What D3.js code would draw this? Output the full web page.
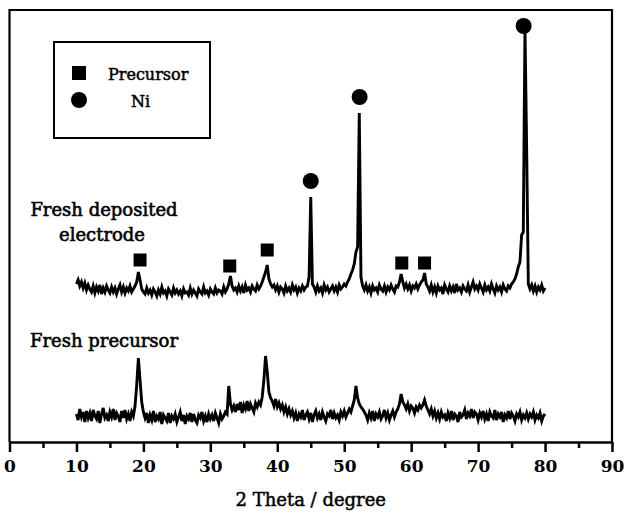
<!DOCTYPE html>
<html><head><meta charset="utf-8">
<script src="https://cdn.jsdelivr.net/npm/d3@7"></script>
<style>html,body{margin:0;padding:0;background:#fff;}svg{display:block;}</style>
</head><body>
<svg id="c" width="627" height="516"></svg>
<script>
// 2-theta sampling of the patterns
const thetaStart = 10, thetaStep = 0.25;
// Fresh deposited electrode (offset intensity, a.u.)
const electrode = [
158,162,156,160,154,159,152,157,153,
150,156,149,155,151,157,148,154,150,156,152,149,155,150,154,148,153,157,150,155,149,154,151,156,150,153,
156,160,170,162,153,150,
148,154,149,152,147,153,150,146,152,148,
155,149,151,146,153,150,147,154,149,152,
148,151,146,153,149,150,147,154,148,152,
149,146,153,150,148,155,149,151,147,153,
150,148,154,149,152,151,148,155,150,153,
158,166,156,152,
154,150,156,151,155,149,157,152,154,150,156,153,151,157,153,156,160,
165,170,177,163,158,155,
157,152,156,150,155,153,149,156,151,154,150,157,152,155,149,154,151,156,152,155,
156,165,245,158,
155,150,156,151,154,149,157,152,155,150,153,156,151,155,150,157,153,155,158,156,160,
163,168,172,178,190,195,329,165,156,
152,157,151,155,149,156,152,154,150,157,153,151,156,150,155,152,157,153,150,156,155,
160,168,160,154,
158,153,157,151,156,154,158,153,157,160,
162,169,158,155,
151,157,150,155,149,156,152,154,148,157,
153,150,156,151,155,149,158,152,154,150,
156,153,151,157,150,155,160,153,156,152,
158,154,150,157,152,155,151,158,153,149,
156,152,155,150,157,153,151,156,154,158,
160,163,168,
175,180,207,210,414,294,158,153,
157,151,156,150,155,152,157,151,154
];
// Fresh precursor (a.u.)
const precursor = [
28,22,33,25,30,20,31,24,29,21,
32,26,23,31,19,28,34,24,27,21,
30,25,33,22,29,26,20,31,24,32,
23,28,21,30,26,
36,57,84,62,40,30,
24,29,19,27,22,31,20,26,23,30,
18,27,24,21,29,19,26,23,28,20,
25,30,21,27,18,26,23,29,20,28,
22,19,27,24,30,21,26,20,28,23,
27,21,29,24,19,28,23,26,30,28,
56,38,32,36,
30,38,32,40,29,37,33,41,31,38,34,30,39,35,40,37,
45,62,86,70,50,44,
41,36,43,35,39,33,37,30,35,28,33,27,
31,24,29,21,28,25,32,22,27,30,
23,29,20,27,31,24,28,22,30,25,
21,28,26,32,23,29,24,27,22,30,
26,31,25,29,33,30,
36,42,56,44,38,35,33,30,
27,22,29,24,31,21,28,25,30,23,26,32,24,29,22,27,31,25,30,33,
38,48,40,37,
33,38,31,36,34,29,35,32,37,34,
37,42,36,32,
28,33,26,31,24,29,23,30,25,27,
21,29,24,31,22,28,26,20,30,25,
27,32,23,29,26,33,24,30,28,22,
29,25,31,23,28,21,30,26,24,32,
22,28,25,30,20,27,24,31,23,29,
26,21,28,25,30,22,27,24,29,23,
28,25,30,22,27,24,29,21,26,28
];
// Phase markers
const precursorMarkX = [19.5, 32.9, 38.5, 58.6, 62.0];
const precursorMarkY = [182, 176, 192, 179, 179];
const niMarkX = [45.0, 52.3, 76.8];
const niMarkY = [261, 345, 416];
const xTicks = [0,10,20,30,40,50,60,70,80,90];
const xMinorTicks = [5,15,25,35,45,55,65,75,85];
const legendLabels = ["Precursor", "Ni"];
const traceLabels = [["Fresh deposited", "electrode"], ["Fresh precursor"]];

const svg = d3.select("#c");
const font = "'DejaVu Serif', serif";
const x = d3.scaleLinear().domain([0, 90]).range([9.5, 612]);
const y = d3.scaleLinear().domain([0, 432]).range([442, 10]);

// heavier text helper
function heavy(sel, w) { return sel.attr("stroke", "#000").attr("stroke-width", w).attr("fill", "#000"); }

// frame
svg.append("path")
  .attr("d", `M${x(0)},${y(0)}V${y(432)}H${x(90)}V${y(0)}`)
  .attr("fill", "none").attr("stroke", "#000").attr("stroke-width", 2.2);

// bottom axis
const ax = svg.append("g").attr("transform", `translate(0,${y(0)})`)
  .call(d3.axisBottom(x).tickValues(xTicks).tickSize(10).tickSizeOuter(0).tickPadding(8).tickFormat(d3.format("d")));
ax.select(".domain").attr("stroke-width", 2.5);
ax.selectAll(".tick line").attr("stroke-width", 2.5);
ax.selectAll(".tick text").attr("font-family", font).attr("font-size", 17).attr("font-weight", "bold").attr("fill", "#000");
const axm = svg.append("g").attr("transform", `translate(0,${y(0)})`)
  .call(d3.axisBottom(x).tickValues(xMinorTicks).tickSize(6).tickFormat(""));
axm.select(".domain").remove();
axm.selectAll(".tick line").attr("stroke-width", 2.5);

heavy(svg.append("text").attr("x", x(45)).attr("y", 506).attr("text-anchor", "middle")
  .attr("font-family", font).attr("font-size", 18).text("2 Theta / degree"), 0.5);

// traces
const line = d3.line().x((d, i) => x(thetaStart + i * thetaStep)).y(d => y(d));
[electrode, precursor].forEach(s => {
  svg.append("path").datum(s).attr("d", line)
    .attr("fill", "none").attr("stroke", "#000").attr("stroke-width", 2.9).attr("stroke-linejoin", "miter");
});

// markers
svg.selectAll("rect.pm").data(precursorMarkX).enter().append("rect").attr("class", "pm")
  .attr("x", (d) => x(d) - 6.5).attr("y", (d, i) => y(precursorMarkY[i]) - 6.5)
  .attr("width", 13).attr("height", 13).attr("fill", "#000");
svg.selectAll("circle.nm").data(niMarkX).enter().append("circle").attr("class", "nm")
  .attr("cx", d => x(d)).attr("cy", (d, i) => y(niMarkY[i])).attr("r", 8).attr("fill", "#000");

// legend
svg.append("rect").attr("x", 54).attr("y", 42).attr("width", 156).attr("height", 96)
  .attr("fill", "#fff").attr("stroke", "#000").attr("stroke-width", 2);
svg.append("rect").attr("x", 72).attr("y", 66).attr("width", 14).attr("height", 14).attr("fill", "#000");
svg.append("circle").attr("cx", 79).attr("cy", 100).attr("r", 8).attr("fill", "#000");
heavy(svg.append("text").attr("x", 108).attr("y", 80).attr("font-family", font).attr("font-size", 16).text(legendLabels[0]), 0.5);
heavy(svg.append("text").attr("x", 131).attr("y", 107).attr("font-family", font).attr("font-size", 16).text(legendLabels[1]), 0.5);

// trace labels
heavy(svg.append("text").attr("x", 104).attr("y", 216).attr("text-anchor", "middle")
  .attr("font-family", font).attr("font-size", 18).text(traceLabels[0][0]), 0.6);
heavy(svg.append("text").attr("x", 102).attr("y", 241).attr("text-anchor", "middle")
  .attr("font-family", font).attr("font-size", 18).text(traceLabels[0][1]), 0.6);
heavy(svg.append("text").attr("x", 104).attr("y", 347).attr("text-anchor", "middle")
  .attr("font-family", font).attr("font-size", 18).text(traceLabels[1][0]), 0.6);
</script>
</body></html>
